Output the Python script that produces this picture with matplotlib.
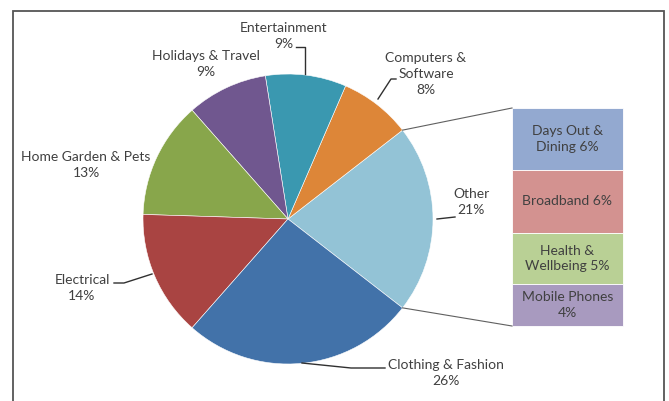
import numpy as np
import matplotlib
matplotlib.use("Agg")
import matplotlib.pyplot as plt

# ---- data ----
pie_labels = ["Other", "Computers &\nSoftware", "Entertainment", "Holidays & Travel",
              "Home Garden & Pets", "Electrical", "Clothing & Fashion"]
pie_values = [21, 8, 9, 9, 13, 14, 26]
pie_colors = ["#93C3D6", "#DD8638", "#3A98B0", "#70578F", "#88A64B", "#A94442", "#4272A9"]

bar_labels = ["Days Out &\nDining", "Broadband", "Health &\nWellbeing", "Mobile Phones\n"]
bar_values = [6, 6, 5, 4]
bar_colors = ["#93A9D0", "#D39290", "#B9D095", "#A89ABF"]

W, H = 669, 401
fig = plt.figure(figsize=(W / 100, H / 100), dpi=100)
ax = fig.add_axes([0, 0, 1, 1])
ax.set_xlim(0, W)
ax.set_ylim(0, H)
ax.set_aspect("equal")
ax.axis("off")

FONT = "Lato"
TXT = "#404040"
fs = 10

def Y(y):
    return H - y

# ---- pie ----
cx, cy, R = 288, Y(219), 145
other_total = pie_values[0]
start = -other_total * 3.6 / 2
ax.pie(pie_values, colors=pie_colors, startangle=start, counterclock=True,
       center=(cx, cy), radius=R, wedgeprops=dict(linewidth=0.4, edgecolor="white"),
       frame=True)
ax.set_xlim(0, W)
ax.set_ylim(0, H)
ax.axis("off")

# ---- bar of "Other" ----
bx0, bx1 = 512, 623
btop, bbot = Y(108), Y(326)
scale = (btop - bbot) / sum(bar_values)
top = btop
for lab, v, c in zip(bar_labels, bar_values, bar_colors):
    h = v * scale
    ax.bar((bx0 + bx1) / 2, h, width=bx1 - bx0, bottom=top - h, color=c,
           edgecolor="white", linewidth=0.6)
    if lab.endswith("\n"):
        text = lab + f"{v}%"
    elif "\n" in lab:
        text = lab + f" {v}%"
    else:
        text = lab + f" {v}%"
    ax.text((bx0 + bx1) / 2, top - h / 2, text, ha="center", va="center",
            fontsize=fs, color=TXT, family=FONT, linespacing=1.35)
    top -= h

# connector lines
a = np.deg2rad(other_total * 3.6 / 2)
p_top = (cx + R * np.cos(a), cy + R * np.sin(a))
p_bot = (cx + R * np.cos(-a), cy + R * np.sin(-a))
ax.plot([p_top[0], bx0], [p_top[1], btop], color="#606060", lw=0.8)
ax.plot([p_bot[0], bx0], [p_bot[1], bbot], color="#606060", lw=0.8)

# ---- pie labels ----
def lbl(x, y, s):
    ax.text(x, Y(y), s, ha="center", va="center", fontsize=fs, color=TXT,
            family=FONT, linespacing=1.35)

lbl(284, 36, "Entertainment\n9%")
lbl(206, 64, "Holidays & Travel\n9%")
lbl(426, 74, "Computers &\nSoftware\n8%")
lbl(86, 165, "Home Garden & Pets\n13%")
lbl(471, 202, "Other\n21%")
lbl(82, 288, "Electrical\n14%")
lbl(446, 373, "Clothing & Fashion\n26%")

def leader(pts):
    xs = [p[0] for p in pts]
    ys = [Y(p[1]) for p in pts]
    ax.plot(xs, ys, color="#303030", lw=1.0)

leader([(296, 47), (305, 47), (305, 74)])
leader([(396, 79), (391, 79), (378, 99)])
leader([(455, 217), (437, 219)])
leader([(114, 283), (124, 283), (152, 274)])
leader([(385, 368), (351, 368), (302, 363)])

# ---- frame ----
ax.plot([13, 13, 664, 664], [0, Y(11), Y(11), 0], color="#555555", lw=1.3,
        solid_joinstyle="miter")

fig.savefig("out.png", dpi=100)
